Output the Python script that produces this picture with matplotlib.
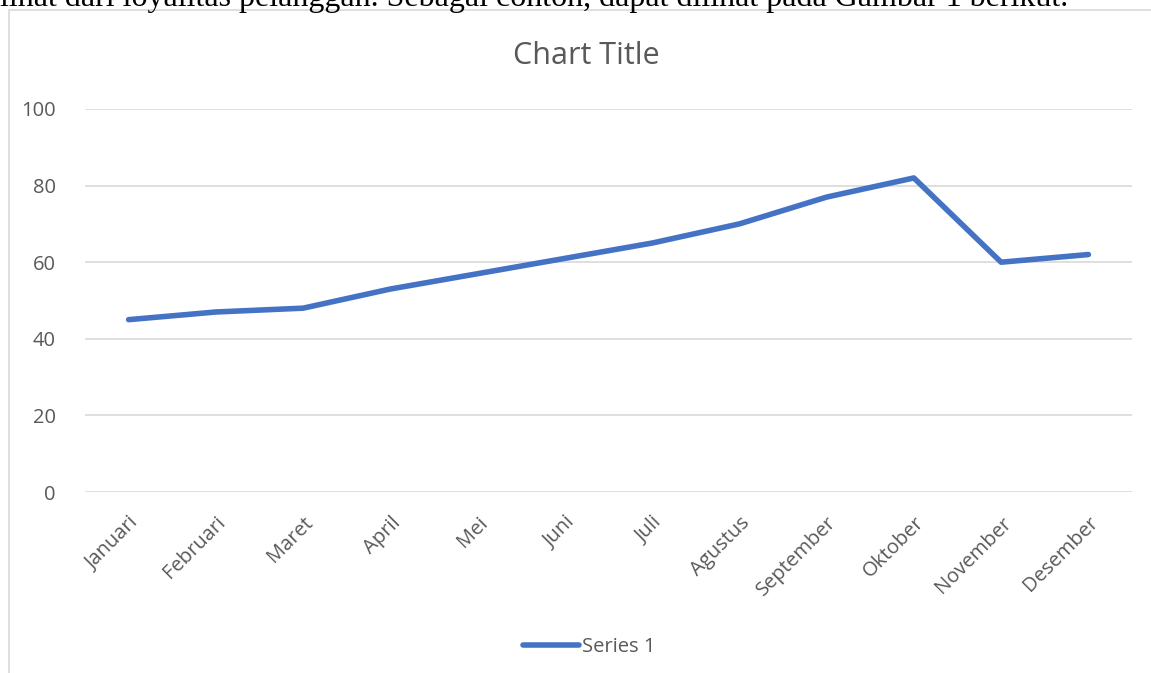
import matplotlib
matplotlib.use("Agg")
import matplotlib.pyplot as plt
from matplotlib.patches import Rectangle

months = ["Januari", "Februari", "Maret", "April", "Mei", "Juni", "Juli",
          "Agustus", "September", "Oktober", "November", "Desember"]
series1 = [45, 47, 48, 53, 57, 61, 65, 70, 77, 82, 60, 62]
yticks = [0, 20, 40, 60, 80, 100]

W, H = 1151, 673
fig = plt.figure(figsize=(W / 100, H / 100), dpi=100)
fig.patch.set_facecolor("white")

# cut-off caption text from the document above the chart
fig.text(0.0, 1 - 6 / H, "lihat dari loyalitas pelanggan. Sebagai contoh, dapat dilihat pada Gambar 1 berikut.",
         family="Liberation Serif", fontsize=23, color="black", ha="left", va="baseline")

# chart frame
fig.patches.append(Rectangle((9 / W, -0.05), (W + 20) / W, (H - 10.5) / H + 0.05,
                             transform=fig.transFigure, fill=False,
                             edgecolor="#d9d9d9", linewidth=1.2, zorder=0))

ax = fig.add_axes([85 / W, 1 - 492 / H, (1132 - 85) / W, (492 - 109) / H])
color = "#4472C4"
txt = "#595959"
x = list(range(len(months)))
line, = ax.plot(x, series1, color=color, linewidth=4, solid_capstyle="round",
                solid_joinstyle="round", label="Series 1", zorder=3)

ax.set_xlim(-0.5, len(months) - 0.5)
ax.set_ylim(0, 100)
ax.set_yticks(yticks)
ax.set_yticklabels([str(v) for v in yticks], family="Open Sans", fontsize=14.5, color=txt)
ax.set_xticks(x)
ax.set_xticklabels(months, rotation=45, ha="right", rotation_mode="anchor",
                   family="Open Sans", fontsize=14.5, color=txt)
ax.tick_params(axis="both", length=0)
ax.tick_params(axis="y", pad=21)
ax.tick_params(axis="x", pad=15)
ax.grid(axis="y", color="#d9d9d9", linewidth=1.2)
ax.set_axisbelow(True)
for s in ax.spines.values():
    s.set_visible(False)

fig.text(586 / W, 1 - 56 / H, "Chart Title", family="Open Sans", fontsize=22,
         color=txt, ha="center", va="center")

leg = fig.legend(handles=[line], labels=["Series 1"], loc="center",
                 bbox_to_anchor=(589 / W, 1 - 647 / H), frameon=False,
                 prop={"family": "Open Sans", "size": 14.5}, handlelength=2.8,
                 handletextpad=0.15)
for t in leg.get_texts():
    t.set_color(txt)

fig.savefig("out.png", dpi=100)
